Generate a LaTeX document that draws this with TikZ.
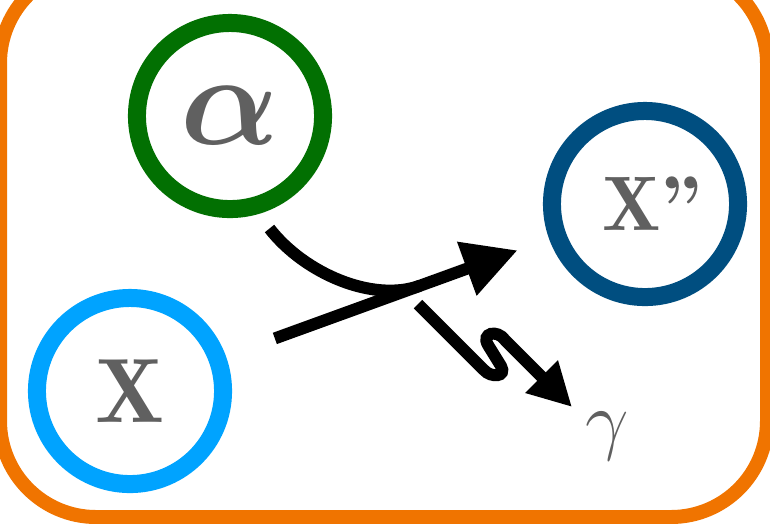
\RequirePackage{fix-cm}
\documentclass[tikz,border=0pt]{standalone}
\usepackage{amsmath,bm}
\usepackage{fontspec}
\newfontfamily\demifont{lmromandemi10-regular.otf}
\usetikzlibrary{arrows.meta,calc}
\definecolor{ringgreen}{RGB}{2,112,2}
\definecolor{ringlight}{RGB}{0,163,255}
\definecolor{ringdark}{RGB}{0,78,128}
\definecolor{frameorange}{RGB}{240,116,0}
\definecolor{labelgray}{RGB}{96,96,96}
\begin{document}
\begin{tikzpicture}[x=0.01cm,y=-0.01cm,
  ring/.style={circle, draw, line width=0.18cm, minimum size=1.86cm, inner sep=0pt, text=labelgray},
  conn/.style={line width=0.12cm, draw=black},
  bigtip/.style={-{Triangle[length=0.54cm,width=0.54cm]}},
  smalltip/.style={-{Triangle[length=0.43cm,width=0.43cm]}}]
\useasboundingbox (0,0) rectangle (770,523);
\clip (0,0) rectangle (770,523);
\draw[frameorange, line width=0.14cm, rounded corners=0.96cm] (0,-33) rectangle (767,517);
\node[ring, draw=ringgreen, font=\fontsize{37}{37}\selectfont] (A) at (230,116) {$\bm{\alpha}$};
\node[ring, draw=ringlight, font=\fontsize{26}{26}\selectfont\demifont] (X) at (130,391) {X};
\node[ring, draw=ringdark, font=\fontsize{22}{22}\selectfont\demifont] (X2) at (645,204) {\hspace{0.14cm}X”};
\node[text=labelgray, font=\fontsize{22}{22}\selectfont, inner sep=0pt] (G) at (607,436) {$\gamma$};
\coordinate (ms) at ($(X)!1.54cm!(X2)$);
\coordinate (me) at ($(X2)!1.355cm!(X)$);
\coordinate (M) at ($(X)!0.563!(X2)$);
\coordinate (cs) at ($(A)+(39.5,112.5)$);
\coordinate (ss) at (418,304);
\coordinate (se) at (572,407);
\draw[conn, bigtip] (ms) -- (me);
\draw[conn] (cs) .. controls (304.5,273.5) and ($(M)+(-47,17)$) .. (M);
\draw[conn, smalltip] (ss) -- (484,370)
  .. controls (491,378) and (507,377) .. (501,366)
  -- (488,345)
  .. controls (481,333) and (497,329) .. (505,340)
  -- (se);
\end{tikzpicture}
\end{document}
